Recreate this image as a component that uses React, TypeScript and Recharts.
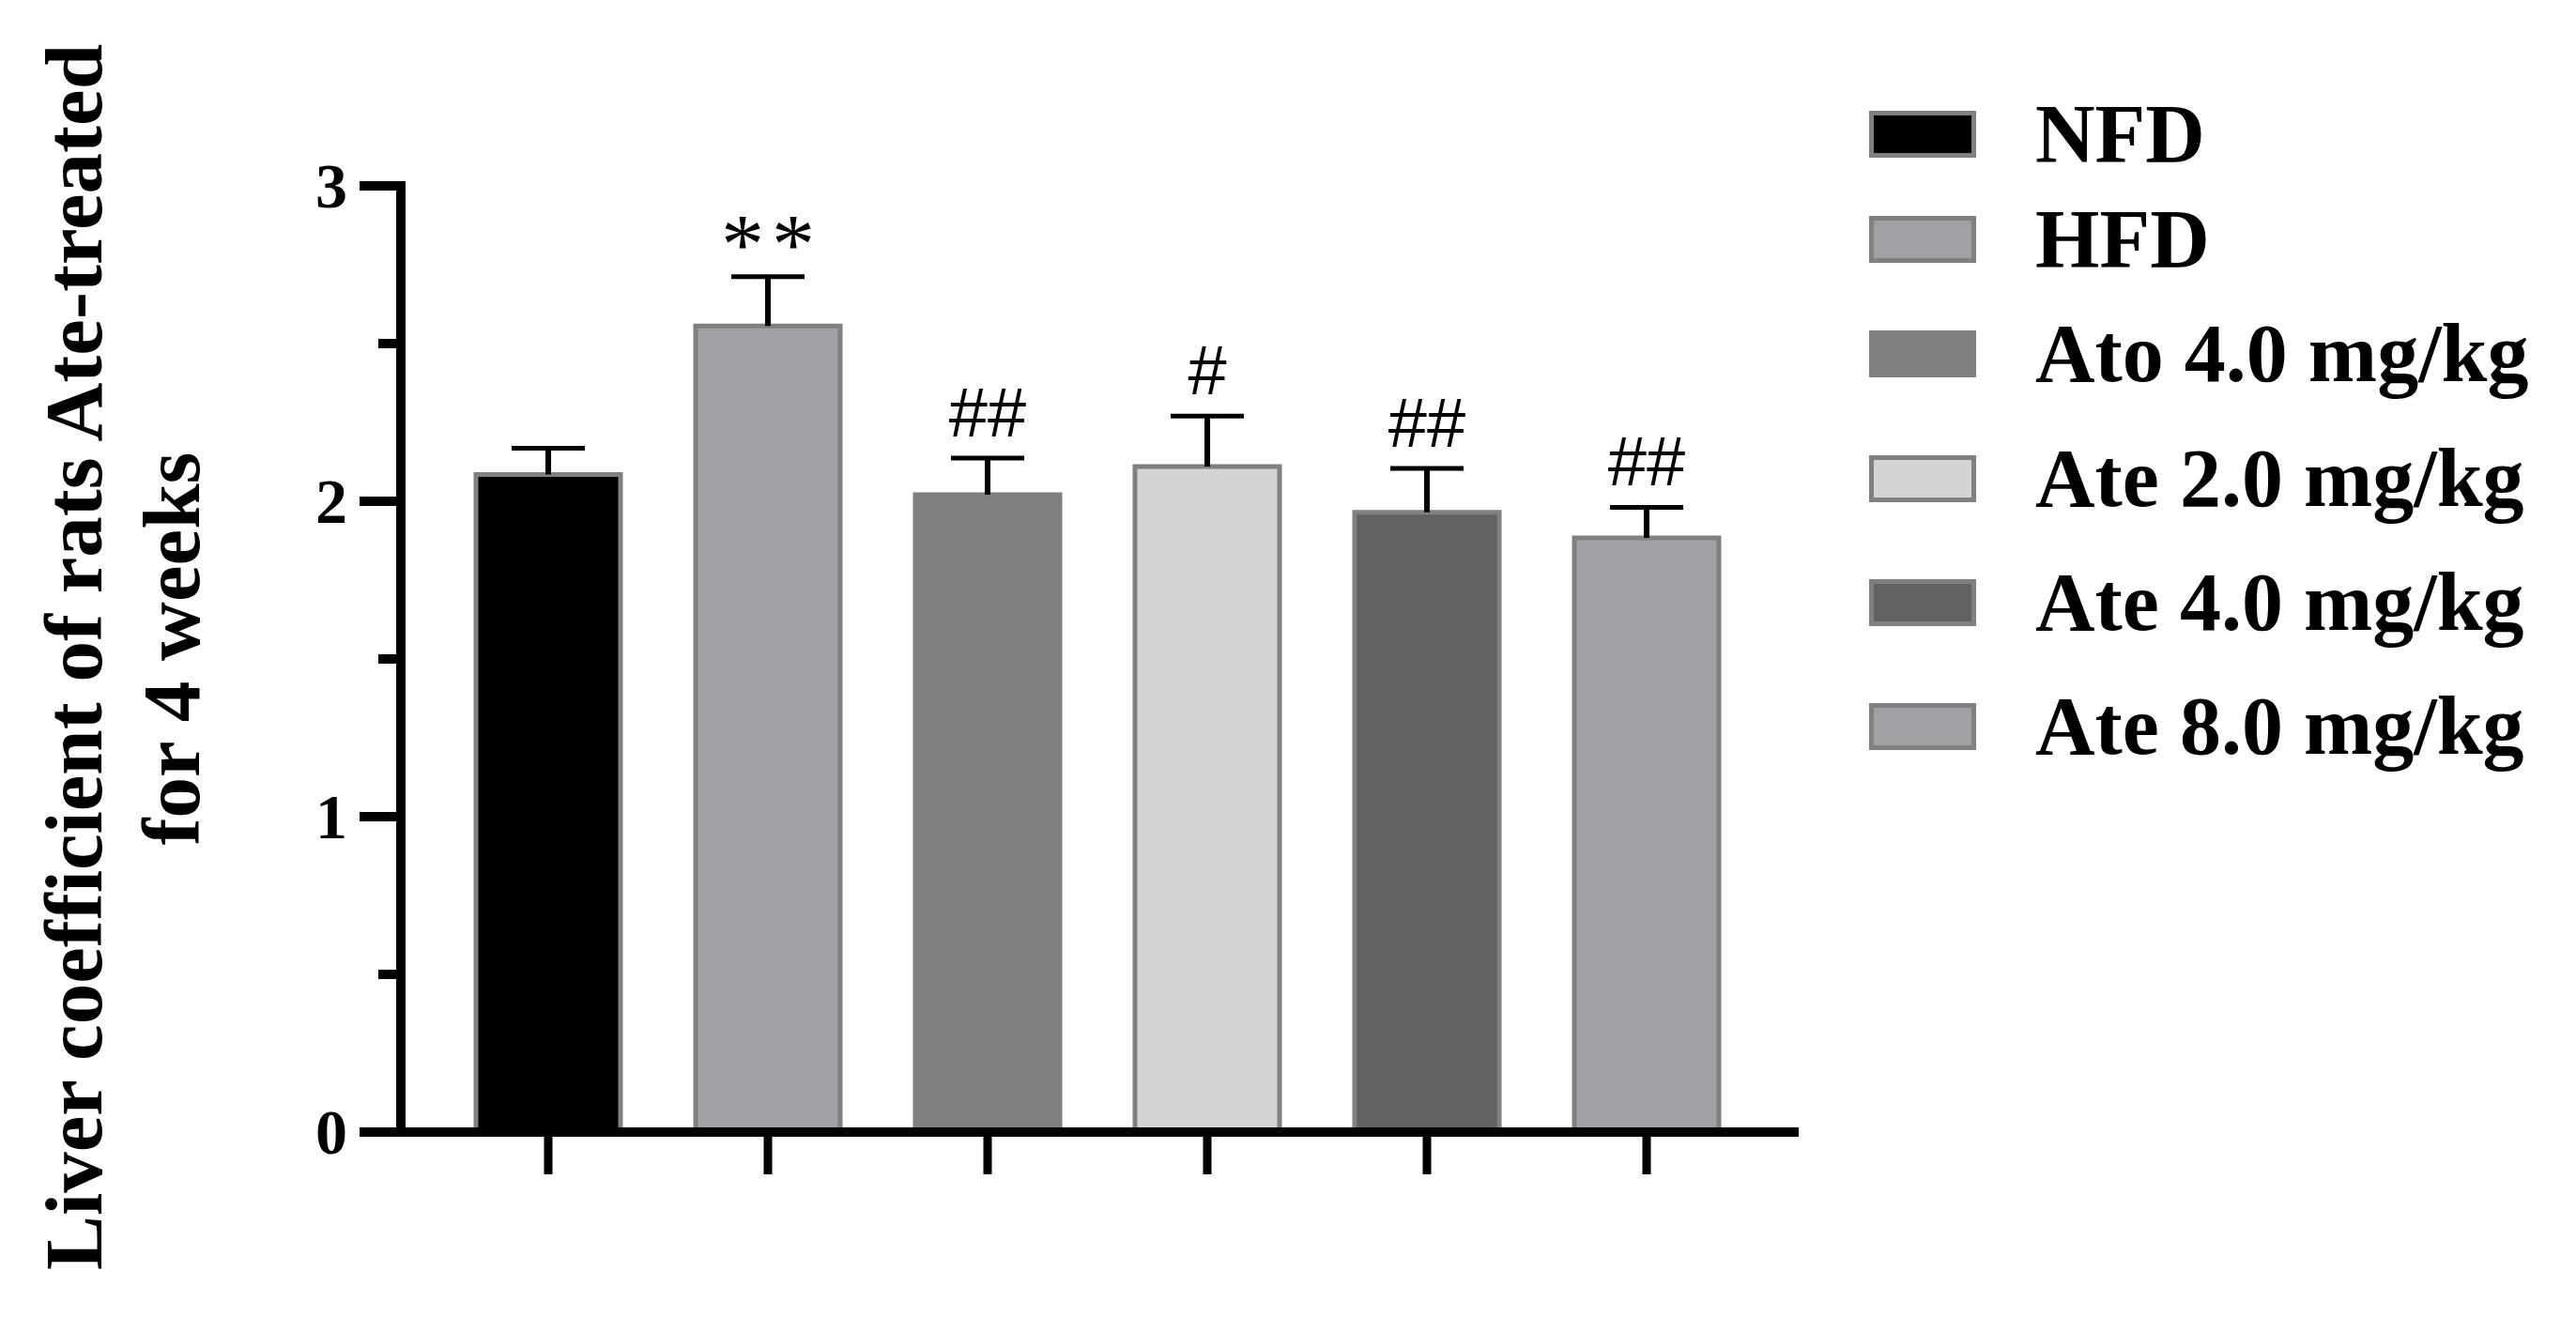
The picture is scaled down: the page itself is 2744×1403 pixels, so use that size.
import { BarChart, Bar, XAxis, YAxis } from 'recharts'

const groups = ['NFD', 'HFD', 'Ato 4.0 mg/kg', 'Ate 2.0 mg/kg', 'Ate 4.0 mg/kg', 'Ate 8.0 mg/kg']
const means = [2.085, 2.556, 2.021, 2.11, 1.965, 1.884]
const sems = [0.083, 0.156, 0.116, 0.16, 0.139, 0.097]
const marks = ['', '**', '##', '#', '##', '##']
const fills = ['#000000', '#a1a0a5', '#808080', '#d4d4d4', '#626262', '#a1a0a5']
const yTicks = [0, 0.5, 1, 1.5, 2, 2.5, 3]

const data = groups.map((name, i) => ({
  name,
  value: means[i],
  sem: sems[i],
  mark: marks[i],
  fill: fills[i],
}))

const SERIF = '"Liberation Serif", "Times New Roman", serif'
const SANS = '"Liberation Sans", Arial, sans-serif'
const BORDER = '#808080'

// filled bar with grey border on three sides (bottom sits under the axis)
function MeanBar(props: any) {
  const { x, y, width, height, payload } = props
  return (
    <g>
      <rect x={x} y={y} width={width} height={height} fill={payload.fill} />
      <path
        d={`M${x},${y + height - 5} L${x},${y} L${x + width},${y} L${x + width},${y + height - 5}`}
        fill="none"
        stroke={BORDER}
        strokeWidth={5}
      />
    </g>
  )
}

// stacked segment from mean to mean+sem -> draw it as the upper error bar
function SemBar(props: any) {
  const { x, y, width, height, payload } = props
  const cx = x + width / 2
  const isStar = payload.mark.startsWith('*')
  return (
    <g>
      <line x1={cx} y1={y + height} x2={cx} y2={y} stroke="#000" strokeWidth={6} />
      <line x1={cx - 39} y1={y} x2={cx + 39} y2={y} stroke="#000" strokeWidth={5} />
      {payload.mark && (
        <text
          x={cx + (isStar ? 4 : 0)}
          y={isStar ? y - 4 : y - 23}
          textAnchor="middle"
          fontFamily={isStar ? SERIF : SANS}
          fontSize={isStar ? 92 : 74}
          letterSpacing={isStar ? 8 : 0}
          fill="#000"
        >
          {payload.mark}
        </text>
      )}
    </g>
  )
}

function YTick(props: any) {
  const { x, y, payload } = props
  const major = Number.isInteger(payload.value)
  return (
    <g>
      <line x1={major ? x - 44 : x - 24} y1={y} x2={x} y2={y} stroke="#000" strokeWidth={10} />
      {major && (
        <text
          x={x - 57}
          y={y}
          dy="0.34em"
          textAnchor="end"
          fontFamily={SERIF}
          fontWeight="bold"
          fontSize={68}
          fill="#000"
        >
          {payload.value}
        </text>
      )}
    </g>
  )
}

const legendRows = [143, 255, 377, 510, 642, 774]

export default function App() {
  return (
    <div style={{ position: 'absolute', left: 0, top: 0, width: 2744, height: 1403, background: '#fff' }}>
      <BarChart
        width={2744}
        height={1403}
        data={data}
        margin={{ top: 198, right: 833, bottom: 137, left: 0 }}
        barSize={154}
      >
        <XAxis
          dataKey="name"
          padding={{ left: 40, right: 40 }}
          height={60}
          tickSize={45}
          tickFormatter={() => ''}
          axisLine={{ stroke: '#000', strokeWidth: 10, strokeLinecap: 'square' }}
          tickLine={{ stroke: '#000', strokeWidth: 9 }}
          interval={0}
        />
        <YAxis
          width={427}
          domain={[0, 3]}
          ticks={yTicks}
          interval={0}
          tickSize={0}
          tickMargin={0}
          tickLine={false}
          tick={<YTick />}
          axisLine={{ stroke: '#000', strokeWidth: 10, strokeLinecap: 'square' }}
        />
        <Bar dataKey="value" stackId="s" shape={<MeanBar />} isAnimationActive={false} />
        <Bar dataKey="sem" stackId="s" shape={<SemBar />} isAnimationActive={false} />
      </BarChart>

      <svg
        width={2744}
        height={1403}
        style={{ position: 'absolute', left: 0, top: 0, pointerEvents: 'none' }}
      >
        <g fontFamily={SERIF} fontWeight="bold" fontSize={87} fill="#000">
          <text x={108} y={700} textAnchor="middle" transform="rotate(-90, 108, 700)">
            Liver coefficient of rats Ate-treated
          </text>
          <text x={212} y={691} textAnchor="middle" transform="rotate(-90, 212, 691)">
            for 4 weeks
          </text>
        </g>
        {groups.map((g, i) => (
          <g key={g}>
            <rect
              x={1993.5}
              y={legendRows[i] - 22.5}
              width={109}
              height={45}
              fill={fills[i]}
              stroke={BORDER}
              strokeWidth={5}
            />
            <text
              x={2168}
              y={legendRows[i] + 29}
              fontFamily={SERIF}
              fontWeight="bold"
              fontSize={88}
              fill="#000"
            >
              {g}
            </text>
          </g>
        ))}
      </svg>
    </div>
  )
}
